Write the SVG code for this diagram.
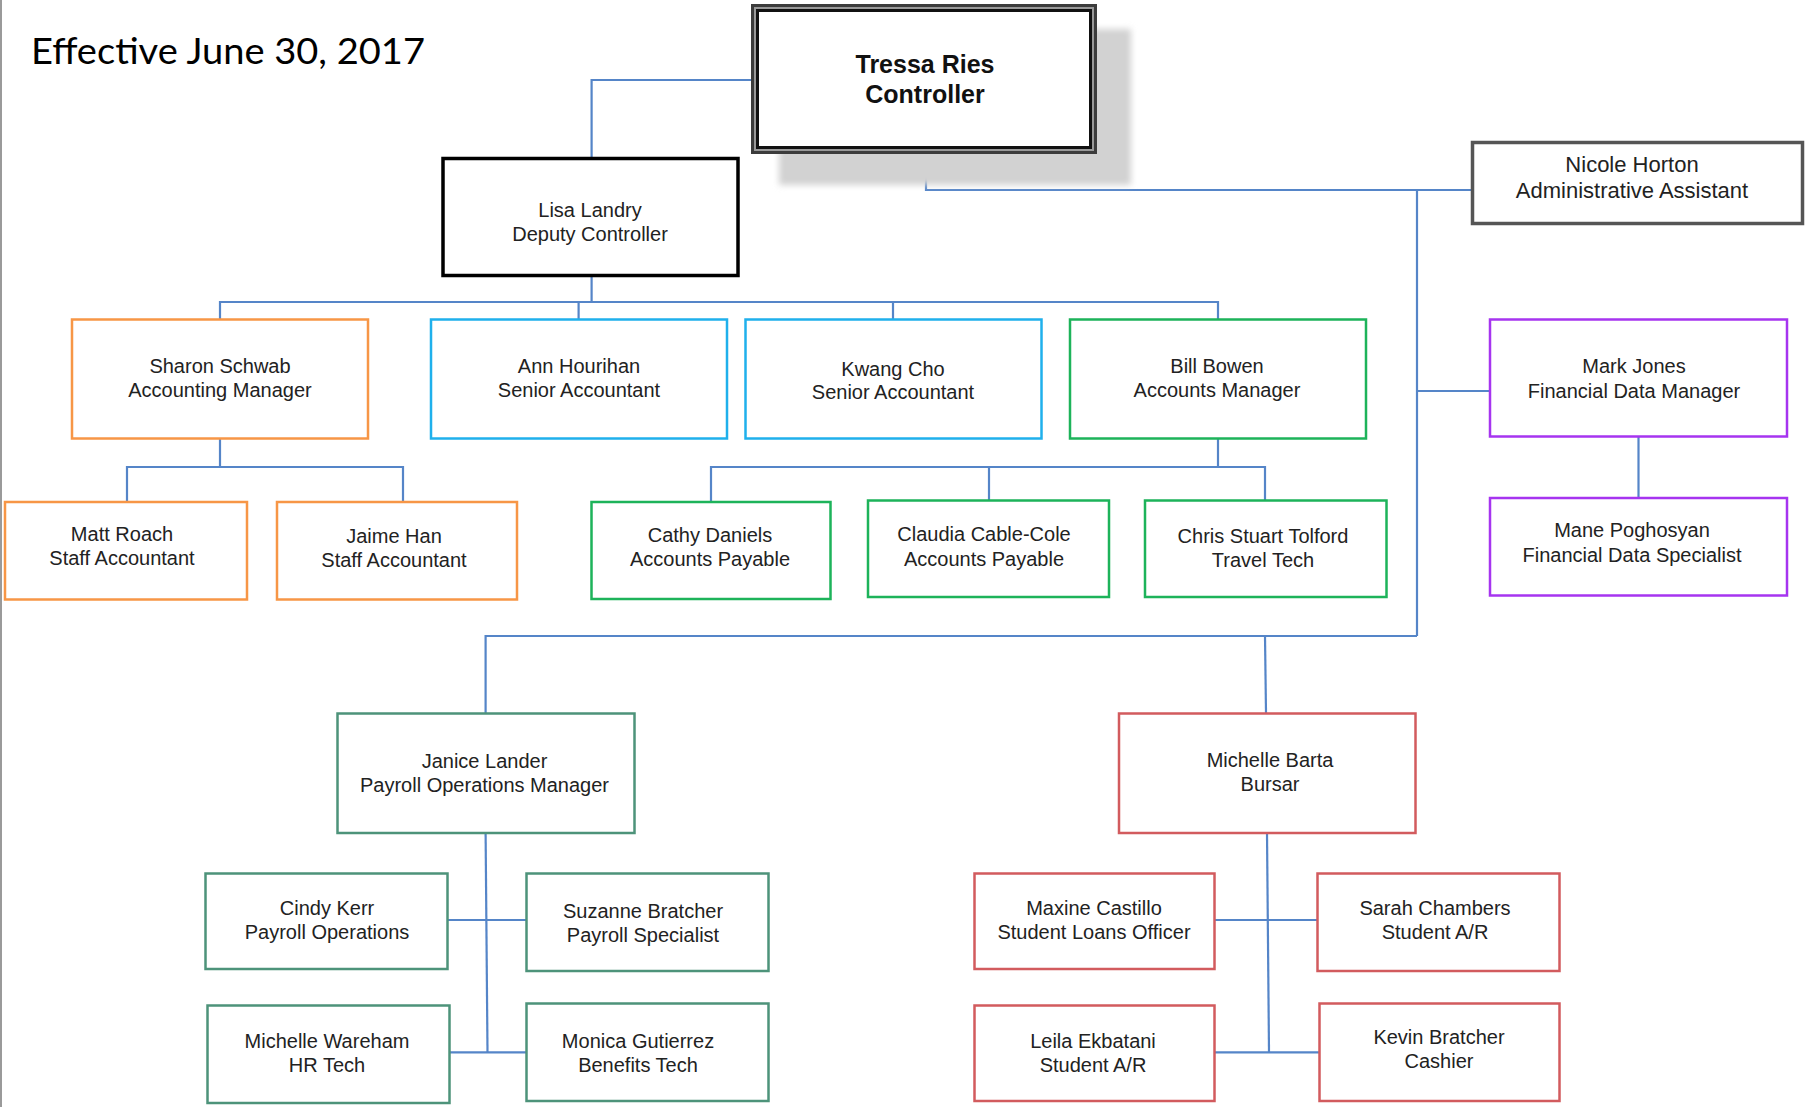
<svg xmlns="http://www.w3.org/2000/svg" width="1808" height="1107" viewBox="0 0 1808 1107">
<defs>
<filter id="blur" x="-10%" y="-10%" width="120%" height="120%"><feGaussianBlur stdDeviation="3"/></filter>
</defs>
<style>
text{font-family:"Liberation Sans",Arial,sans-serif;font-size:20px;fill:#222;text-anchor:middle}
.box{fill:#fff;stroke-width:2.5}
.or{stroke:#f79646}
.bl{stroke:#1fb0ec}
.gr{stroke:#1db35a}
.tg{stroke:#4d937a}
.rd{stroke:#d25b5e}
.pu{stroke:#a634f0}
.con line,.con polyline{stroke:#5585c8;stroke-width:2.2;fill:none}
</style>
<rect x="0" y="0" width="2" height="1107" fill="#9a9a9a"/>
<text x="31" y="64" style="font-family:Lato,'Open Sans',sans-serif;font-size:37px;text-anchor:start;fill:#000" textLength="394" lengthAdjust="spacingAndGlyphs">Effective June 30, 2017</text>

<g id="connectors" class="con">
<polyline points="751,80 591.6,80 591.6,157"/>
<polyline points="926,153 926,190 1471,190"/>
<line x1="1417" y1="190" x2="1417" y2="636"/>
<line x1="1417" y1="391" x2="1490" y2="391"/>
<line x1="1638.5" y1="437" x2="1638.5" y2="498"/>
<line x1="591.6" y1="277" x2="591.6" y2="302"/>
<polyline points="220,319 220,302 1218,302 1218,319"/>
<line x1="578.6" y1="302" x2="578.6" y2="319"/>
<line x1="893" y1="302" x2="893" y2="319"/>
<line x1="220" y1="439" x2="220" y2="467"/>
<polyline points="127,502 127,467 403,467 403,502"/>
<line x1="1218" y1="439" x2="1218" y2="467"/>
<polyline points="711,502 711,467 1265,467 1265,500"/>
<line x1="989" y1="467" x2="989" y2="500"/>
<polyline points="485.6,713 485.6,636 1417,636"/>
<line x1="1265" y1="636" x2="1266" y2="713"/>
<polyline points="485.6,833 487.5,1052"/>
<line x1="447" y1="920" x2="526.5" y2="920"/>
<line x1="449.7" y1="1052.3" x2="526.5" y2="1052.3"/>
<polyline points="1267,833 1269,1052"/>
<line x1="1214.5" y1="920" x2="1317.3" y2="920"/>
<line x1="1214.5" y1="1052.3" x2="1319.4" y2="1052.3"/>
</g>

<g id="tressa">
<rect x="779" y="29" width="352" height="156" fill="#d2d2d2" filter="url(#blur)"/>
<rect x="752.5" y="5.5" width="343" height="147" fill="#fff" stroke="#3c3c3c" stroke-width="3"/>
<rect x="755" y="8" width="338" height="142" fill="none" stroke="#999" stroke-width="2"/>
<rect x="757.5" y="10.5" width="333" height="137" fill="#fff" stroke="#111" stroke-width="3"/>
<text x="925" y="73" style="font-weight:bold;font-size:25px;fill:#111">Tressa Ries</text>
<text x="925" y="103" style="font-weight:bold;font-size:25px;fill:#111">Controller</text>
</g>

<g id="lisa">
<rect x="443" y="158.5" width="295" height="117" fill="#fff" stroke="#000" stroke-width="3.5"/>
<text x="590" y="217">Lisa Landry</text>
<text x="590" y="241">Deputy Controller</text>
</g>

<g id="nicole">
<rect x="1472.5" y="142.5" width="330" height="81" fill="#fff" stroke="#555" stroke-width="3.5"/>
<text x="1632" y="172" style="font-size:22px">Nicole Horton</text>
<text x="1632" y="198" style="font-size:22px">Administrative Assistant</text>
</g>

<g id="sharon">
<rect class="box or" x="72" y="319.5" width="296" height="119"/>
<text x="220" y="373">Sharon Schwab</text>
<text x="220" y="397">Accounting Manager</text>
</g>
<g id="ann">
<rect class="box bl" x="431" y="319.5" width="296" height="119"/>
<text x="579" y="373">Ann Hourihan</text>
<text x="579" y="397">Senior Accountant</text>
</g>
<g id="kwang">
<rect class="box bl" x="745.5" y="319.5" width="296" height="119"/>
<text x="893" y="376">Kwang Cho</text>
<text x="893" y="399">Senior Accountant</text>
</g>
<g id="bill">
<rect class="box gr" x="1070" y="319.5" width="296" height="119"/>
<text x="1217" y="373">Bill Bowen</text>
<text x="1217" y="397">Accounts Manager</text>
</g>
<g id="mark">
<rect class="box pu" x="1490" y="319.5" width="297" height="117"/>
<text x="1634" y="373">Mark Jones</text>
<text x="1634" y="398">Financial Data Manager</text>
</g>
<g id="mane">
<rect class="box pu" x="1490" y="498" width="297" height="97.5"/>
<text x="1632" y="537">Mane Poghosyan</text>
<text x="1632" y="562">Financial Data Specialist</text>
</g>

<g id="matt">
<rect class="box or" x="5" y="502" width="242" height="97.5"/>
<text x="122" y="541">Matt Roach</text>
<text x="122" y="565">Staff Accountant</text>
</g>
<g id="jaime">
<rect class="box or" x="277" y="502" width="240" height="97.5"/>
<text x="394" y="543">Jaime Han</text>
<text x="394" y="567">Staff Accountant</text>
</g>
<g id="cathy">
<rect class="box gr" x="591.5" y="502" width="239" height="97"/>
<text x="710" y="542">Cathy Daniels</text>
<text x="710" y="566">Accounts Payable</text>
</g>
<g id="claudia">
<rect class="box gr" x="868" y="500.5" width="241" height="96.5"/>
<text x="984" y="541">Claudia Cable-Cole</text>
<text x="984" y="566">Accounts Payable</text>
</g>
<g id="chris">
<rect class="box gr" x="1145" y="500.5" width="241.5" height="96.5"/>
<text x="1263" y="543">Chris Stuart Tolford</text>
<text x="1263" y="567">Travel Tech</text>
</g>

<g id="janice">
<rect class="box tg" x="337.5" y="713.5" width="297" height="119.5"/>
<text x="484.5" y="768">Janice Lander</text>
<text x="484.5" y="792">Payroll Operations Manager</text>
</g>
<g id="cindy">
<rect class="box tg" x="205.5" y="873.5" width="242" height="95.5"/>
<text x="327" y="915">Cindy Kerr</text>
<text x="327" y="939">Payroll Operations</text>
</g>
<g id="suzanne">
<rect class="box tg" x="526.5" y="873.5" width="242" height="97.5"/>
<text x="643" y="918">Suzanne Bratcher</text>
<text x="643" y="942">Payroll Specialist</text>
</g>
<g id="wareham">
<rect class="box tg" x="207.5" y="1005.5" width="242" height="97.5"/>
<text x="327" y="1048">Michelle Wareham</text>
<text x="327" y="1072">HR Tech</text>
</g>
<g id="monica">
<rect class="box tg" x="526.5" y="1003.5" width="242" height="97.5"/>
<text x="638" y="1048">Monica Gutierrez</text>
<text x="638" y="1072">Benefits Tech</text>
</g>

<g id="barta">
<rect class="box rd" x="1119" y="713.5" width="296.5" height="119.5"/>
<text x="1270" y="767">Michelle Barta</text>
<text x="1270" y="791">Bursar</text>
</g>
<g id="maxine">
<rect class="box rd" x="974.5" y="873.5" width="240" height="95.5"/>
<text x="1094" y="915">Maxine Castillo</text>
<text x="1094" y="939">Student Loans Officer</text>
</g>
<g id="sarah">
<rect class="box rd" x="1317.5" y="873.5" width="242" height="97.5"/>
<text x="1435" y="915">Sarah Chambers</text>
<text x="1435" y="939">Student A/R</text>
</g>
<g id="leila">
<rect class="box rd" x="974.5" y="1005.5" width="240" height="95.5"/>
<text x="1093" y="1048">Leila Ekbatani</text>
<text x="1093" y="1072">Student A/R</text>
</g>
<g id="kevin">
<rect class="box rd" x="1319.5" y="1003.5" width="240" height="97.5"/>
<text x="1439" y="1044">Kevin Bratcher</text>
<text x="1439" y="1068">Cashier</text>
</g>
</svg>
